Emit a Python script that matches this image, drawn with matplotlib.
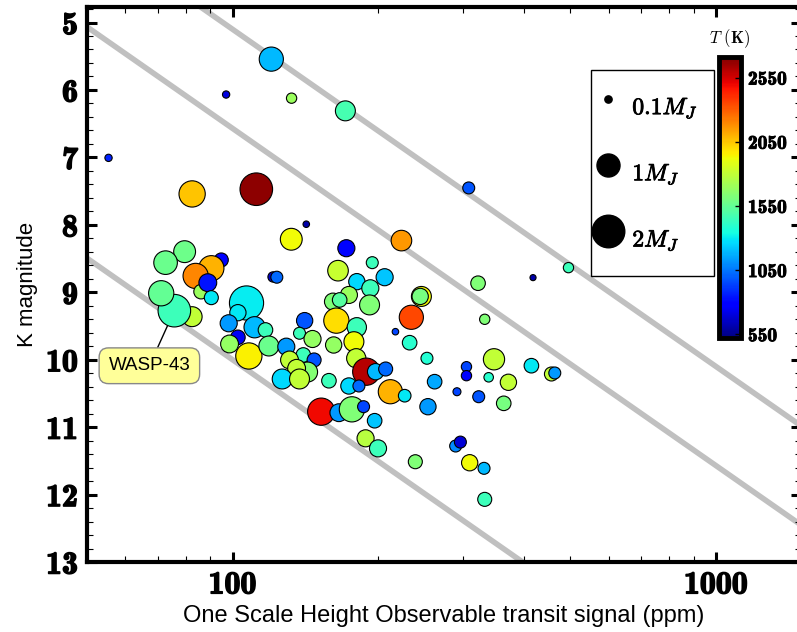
import numpy as np
import matplotlib.pyplot as plt
import matplotlib.patheffects as pe
from matplotlib.ticker import MultipleLocator, LogLocator, NullFormatter

plt.rcParams['mathtext.fontset'] = 'cm'

# planets: transit signal (ppm), K magnitude, mass (M_J), temperature (K)
ppm = [120.3, 97.0, 132.5, 171.2, 308.1, 55.4, 82.5, 112.0, 142.1, 132.3,
       79.6, 72.7, 94.8, 90.4, 83.9, 86.1, 88.9, 90.4, 82.5, 75.8,
       71.2, 106.9, 102.6, 98.2, 111.1, 117.0, 141.0, 137.6, 146.4, 102.6,
       98.6, 108.1, 118.9, 129.2, 140.1, 147.5, 131.2, 143.0, 135.7, 126.7,
       137.6, 152.6, 223.6, 172.0, 194.6, 121.3, 123.5, 165.3, 180.8, 206.4,
       192.8, 174.1, 161.4, 166.6, 192.1, 245.9, 244.5, 234.4, 164.0, 180.8,
       217.3, 178.3, 161.9, 232.5, 180.3, 189.1, 197.7, 207.4, 252.5, 261.9,
       174.1, 182.6, 158.3, 212.1, 227.1, 166.0, 176.6, 186.7, 253.7, 196.8,
       188.5, 200.0, 238.9, 495.5, 418.5, 322.1, 332.5, 347.5, 304.8, 304.8,
       338.8, 372.2, 415.3, 456.9, 464.2, 291.3, 323.1, 364.0, 289.5, 296.1,
       309.5, 331.4, 332.5]
kmag = [5.543, 6.068, 6.122, 6.310, 7.453, 7.007, 7.542, 7.472, 7.991, 8.214,
        8.398, 8.561, 8.521, 8.644, 8.758, 8.991, 8.858, 9.080, 9.362, 9.273,
        9.015, 9.159, 9.303, 9.460, 9.519, 9.559, 9.421, 9.608, 9.693, 9.668,
        9.767, 9.945, 9.797, 9.807, 9.930, 10.004, 10.004, 10.183, 10.128, 10.286,
        10.286, 10.771, 8.234, 8.347, 8.561, 8.773, 8.777, 8.680, 8.843, 8.777,
        8.941, 9.040, 9.139, 9.114, 9.188, 9.062, 9.062, 9.371, 9.421, 9.519,
        9.585, 9.733, 9.782, 9.748, 9.979, 10.178, 10.178, 10.138, 9.979, 10.326,
        10.390, 10.390, 10.312, 10.475, 10.534, 10.786, 10.736, 10.697, 10.697, 10.905,
        11.166, 11.315, 11.513, 8.635, 8.783, 8.866, 9.401, 9.994, 10.104, 10.237,
        10.261, 10.335, 10.089, 10.212, 10.197, 10.475, 10.549, 10.647, 11.280, 11.222,
        11.528, 11.611, 12.071]
mass = [1.1, 0.1, 0.2, 0.75, 0.27, 0.1, 1.3, 2.0, 0.08, 0.9,
        0.9, 1.05, 0.37, 1.2, 1.2, 0.4, 0.6, 0.37, 0.75, 2.0,
        1.2, 2.2, 0.5, 0.55, 0.85, 0.4, 0.5, 0.27, 0.55, 0.4,
        0.6, 1.3, 0.75, 0.55, 0.4, 0.37, 0.6, 0.75, 0.6, 0.75,
        0.75, 1.4, 0.8, 0.55, 0.27, 0.2, 0.27, 0.8, 0.5, 0.55,
        0.55, 0.55, 0.55, 0.4, 0.75, 0.75, 0.5, 1.1, 1.2, 0.7,
        0.08, 0.75, 0.5, 0.4, 0.7, 1.4, 0.5, 0.37, 0.27, 0.4,
        0.5, 0.27, 0.4, 1.1, 0.3, 0.6, 1.2, 0.27, 0.5, 0.4,
        0.55, 0.55, 0.37, 0.2, 0.07, 0.4, 0.2, 0.85, 0.2, 0.2,
        0.17, 0.5, 0.4, 0.37, 0.27, 0.12, 0.27, 0.4, 0.27, 0.27,
        0.5, 0.27, 0.37]
temp = [1190, 700, 1700, 1470, 980, 870, 2055, 2680, 600, 1930,
        1580, 1570, 790, 2100, 2200, 1700, 830, 1290, 1800, 1450,
        1550, 1300, 1290, 1120, 1190, 1450, 980, 1450, 1675, 750,
        1680, 1950, 1570, 1120, 1450, 980, 1800, 1635, 1800, 1260,
        1800, 2490, 2160, 800, 1450, 650, 1020, 1820, 1260, 1220,
        1450, 1700, 1630, 1520, 1630, 1930, 1600, 2350, 1995, 1450,
        940, 1930, 1680, 1400, 1800, 2600, 1190, 1020, 1380, 1160,
        1260, 1020, 1450, 2100, 1290, 1120, 1630, 940, 1120, 1220,
        1770, 1450, 1630, 1450, 600, 1630, 1630, 1800, 940, 800,
        1400, 1800, 1290, 1800, 1120, 940, 980, 1600, 1090, 690,
        1930, 1190, 1450]

# WASP-43b
wasp43 = (75.8, 9.273)

# constant S/N lines: K = 5 log10(signal) + offset
line_offsets = [0.0, -3.43, -4.9]

xticks = [100, 1000]
yticks = list(range(5, 14))
cbar_ticks = [550, 1050, 1550, 2050, 2550]
legend_mass = [0.1, 1, 2]
legend_labels = [r'$\mathbf{0.1}M_J$', r'$\mathbf{1}M_J$', r'$\mathbf{2}M_J$']

size_scale = 275.0
bold = [pe.withStroke(linewidth=1.1, foreground='k')]

fig = plt.figure(figsize=(7.97, 6.32), dpi=100)
ax = fig.add_axes([87 / 797, 70 / 632, 714 / 797, 555 / 632])

xg = np.logspace(np.log10(40), np.log10(2000), 200)
for b in line_offsets:
    ax.plot(xg, 5 * np.log10(xg) + b, color='#c0c0c0', lw=4, zorder=1)

sc = ax.scatter(ppm, kmag, s=size_scale * np.array(mass), c=temp, cmap='jet',
                vmin=520, vmax=2710, edgecolors='k', linewidths=0.8, zorder=3)

ax.annotate('WASP-43', xy=wasp43, xytext=(67.3, 10.09), ha='center', va='center',
            fontsize=13.5, family='Liberation Sans', zorder=5,
            bbox=dict(boxstyle='round,pad=0.5', fc='#ffff99', ec='#888888', lw=1),
            arrowprops=dict(arrowstyle='-', color='k', lw=1, shrinkA=0, shrinkB=12))

ax.set_xscale('log')
ax.set_xlim(50, 1500)
ax.set_ylim(13, 4.77)
ax.set_xticks(xticks)
ax.set_xticklabels([str(v) for v in xticks], family='cmb10', fontsize=23,
                   path_effects=bold)
ax.xaxis.set_minor_locator(LogLocator(base=10, subs=np.arange(2, 10)))
ax.xaxis.set_minor_formatter(NullFormatter())
ax.set_yticks(yticks)
ax.set_yticklabels([str(v) for v in yticks], family='cmb10', fontsize=23,
                   path_effects=bold)
ax.yaxis.set_minor_locator(MultipleLocator(0.2))

ax.tick_params(which='both', direction='in', top=True, right=True)
ax.tick_params(which='major', length=7.5, width=2.2)
ax.tick_params(which='minor', length=4.5, width=0.8)
ax.tick_params(axis='y', which='major', pad=6.5)
ax.tick_params(axis='x', which='major', pad=6)
for sp in ax.spines.values():
    sp.set_linewidth(3)

ax.set_xlabel('One Scale Height Observable transit signal (ppm)',
              family='Liberation Sans', fontsize=17, labelpad=4)
ax.set_ylabel('K magnitude', family='Liberation Sans', fontsize=16, labelpad=6)

handles = [ax.scatter([], [], s=size_scale * m, c='k') for m in legend_mass]
leg = ax.legend(handles, legend_labels, loc='upper left',
                bbox_to_anchor=(591 / 797, 1 - 70 / 632), bbox_transform=fig.transFigure,
                borderaxespad=0, frameon=True, fancybox=False, edgecolor='k',
                framealpha=1, fontsize=17, scatterpoints=1, handleheight=2.35,
                labelspacing=1.03, borderpad=0.68, handlelength=0.05,
                handletextpad=1.02)
leg.get_frame().set_linewidth(1.0)
for t in leg.get_texts():
    t.set_path_effects([pe.withStroke(linewidth=0.6, foreground='k')])

cax = fig.add_axes([719 / 797, (632 - 338) / 632, 22 / 797, 281 / 632])
cb = fig.colorbar(sc, cax=cax, ticks=cbar_ticks)
cb.set_ticklabels([str(v) for v in cbar_ticks])
for t in cb.ax.get_yticklabels():
    t.set_family('cmb10')
    t.set_fontsize(14)
    t.set_path_effects([pe.withStroke(linewidth=0.7, foreground='k')])
cb.outline.set_linewidth(3.5)
cb.ax.tick_params(direction='in', length=4, width=1, pad=5)
cax.set_title(r'$T\ \mathbf{(K)}$', fontsize=12, pad=10)

fig.savefig('out.png', dpi=100)
